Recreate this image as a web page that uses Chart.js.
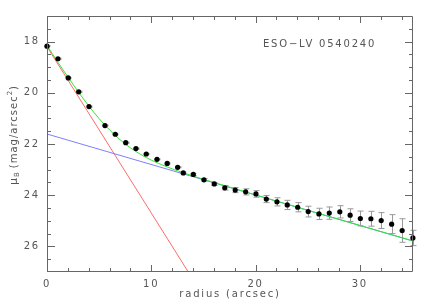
<!DOCTYPE html>
<html>
<head>
<meta charset="utf-8">
<script src="https://cdn.jsdelivr.net/npm/chart.js@4.4.1/dist/chart.umd.min.js"></script>
<style>
  body { margin: 0; background: #fff; }
</style>
</head>
<body>
<canvas id="profile" width="436" height="305"></canvas>
<script>
// measured surface brightness profile
const radius = [0, 1.05, 2.04, 3.04, 4.03, 5.56, 6.55, 7.55, 8.53, 9.52, 10.55, 11.53, 12.53,
    13.07, 14.03, 15.05, 16.04, 17.05, 18.05, 19.05, 20.04, 21.03, 22.05, 23.04, 24.04,
    25.05, 26.08, 27.07, 28.08, 29.07, 30.05, 31.06, 32.05, 33.05, 34.06, 35.09];
const muB = [18.18, 18.67, 19.42, 19.96, 20.54, 21.28, 21.62, 21.95, 22.18, 22.39, 22.60, 22.76, 22.91,
    23.13, 23.19, 23.40, 23.56, 23.71, 23.80, 23.87, 23.95, 24.15, 24.26, 24.38, 24.47,
    24.64, 24.73, 24.70, 24.65, 24.78, 24.91, 24.92, 24.99, 25.13, 25.38, 25.67];
const muErr = [0.02, 0.02, 0.02, 0.02, 0.02, 0.02, 0.02, 0.02, 0.02, 0.02, 0.02, 0.02, 0.02,
    0.03, 0.04, 0.05, 0.06, 0.09, 0.10, 0.12, 0.13, 0.14, 0.16, 0.18, 0.18,
    0.21, 0.22, 0.24, 0.24, 0.25, 0.29, 0.29, 0.31, 0.37, 0.46, 0.30];

// fitted components
const bulgeR = [0, 13.55];
const bulgeMu = [18.2, 27.0];
const diskR = [0, 35.1];
const diskMu = [21.61, 25.79];
const fitR = [0, 1, 2, 3, 4, 5, 6, 7, 8, 9, 10, 12, 14, 16, 20, 25, 30, 35.1];
const fitMu = [18.15, 18.78, 19.38, 19.96, 20.51, 21.01, 21.45, 21.83, 22.15, 22.41, 22.63,
    22.97, 23.25, 23.50, 23.99, 24.59, 25.18, 25.79];

const xTicks = [0, 10, 20, 30];
const yTicks = [18, 20, 22, 24, 26];
const galaxyName = 'ESO\u2212LV 0540240';

const axisColor = '#666';
const textColor = '#555';
const fontFamily = "'DejaVu Sans', sans-serif";
const spacing = '1.8px';

const toXY = (xs, ys) => xs.map((x, i) => ({ x: x, y: ys[i] }));

// wide, spaced-out lettering like the original plot
const letterSpacing = {
    id: 'letterSpacing',
    beforeUpdate(chart) { chart.ctx.letterSpacing = spacing; },
    beforeDraw(chart) { chart.ctx.letterSpacing = spacing; }
};

const errorBars = {
    id: 'errorBars',
    beforeDatasetsDraw(chart) {
        const { ctx, scales: { x, y } } = chart;
        ctx.save();
        ctx.strokeStyle = '#999';
        ctx.lineWidth = 1;
        ctx.beginPath();
        radius.forEach((r, i) => {
            const px = Math.round(x.getPixelForValue(r)) + 0.5;
            const top = y.getPixelForValue(muB[i] - muErr[i]);
            const bot = y.getPixelForValue(muB[i] + muErr[i]);
            ctx.moveTo(px, top); ctx.lineTo(px, bot);
            ctx.moveTo(px - 3, top); ctx.lineTo(px + 3, top);
            ctx.moveTo(px - 3, bot); ctx.lineTo(px + 3, bot);
        });
        ctx.stroke();
        ctx.restore();
    }
};

// box with inward ticks on all four sides, plus the extra labels
const frame = {
    id: 'frame',
    afterDraw(chart) {
        const { ctx, chartArea: a, scales: { x, y } } = chart;
        ctx.save();
        ctx.strokeStyle = axisColor;
        ctx.lineWidth = 1;
        ctx.beginPath();
        ctx.rect(a.left + 0.5, a.top + 0.5, a.right - a.left - 1, a.bottom - a.top - 1);
        for (let v = 0; v <= 35; v += 2) {
            const len = xTicks.includes(v) ? 7 : 4;
            const px = Math.round(x.getPixelForValue(v)) + 0.5;
            ctx.moveTo(px, a.bottom); ctx.lineTo(px, a.bottom - len);
            ctx.moveTo(px, a.top); ctx.lineTo(px, a.top + len);
        }
        for (let v = 17.5; v < 27; v += 0.5) {
            const len = yTicks.includes(v) ? 8 : 4;
            const py = Math.round(y.getPixelForValue(v)) + 0.5;
            ctx.moveTo(a.left, py); ctx.lineTo(a.left + len, py);
            ctx.moveTo(a.right, py); ctx.lineTo(a.right - len, py);
        }
        ctx.stroke();

        ctx.fillStyle = textColor;
        ctx.letterSpacing = spacing;
        ctx.font = '10px ' + fontFamily;
        ctx.textBaseline = 'middle';
        ctx.textAlign = 'left';
        ctx.fillText(galaxyName, 263, 44);

        // y axis title: mu_B (mag/arcsec^2)
        ctx.letterSpacing = '1px';
        ctx.translate(14, 185);
        ctx.rotate(-Math.PI / 2);
        ctx.font = '11px ' + fontFamily;
        let cx = 0;
        ctx.fillText('\u03bc', cx, 0);
        cx += ctx.measureText('\u03bc').width;
        ctx.font = '7px ' + fontFamily;
        ctx.fillText('B', cx, 3);
        cx += ctx.measureText('B').width + 3;
        ctx.font = '10px ' + fontFamily;
        ctx.fillText('(mag/arcsec', cx, 0);
        cx += ctx.measureText('(mag/arcsec').width;
        ctx.font = '7px ' + fontFamily;
        ctx.fillText('2', cx, -4);
        cx += ctx.measureText('2').width;
        ctx.font = '10px ' + fontFamily;
        ctx.fillText(')', cx, 0);
        ctx.restore();
    }
};

new Chart(document.getElementById('profile'), {
    type: 'scatter',
    data: {
        // first dataset is drawn on top
        datasets: [
            {
                label: 'profile',
                data: toXY(radius, muB),
                pointRadius: 2.6,
                pointBackgroundColor: '#000',
                pointBorderWidth: 0,
                clip: false
            },
            {
                label: 'total',
                data: toXY(fitR, fitMu),
                showLine: true,
                cubicInterpolationMode: 'monotone',
                borderColor: '#2ee62e',
                borderWidth: 1,
                pointRadius: 0
            },
            {
                label: 'disk',
                data: toXY(diskR, diskMu),
                showLine: true,
                borderColor: '#7f7fff',
                borderWidth: 1,
                pointRadius: 0
            },
            {
                label: 'bulge',
                data: toXY(bulgeR, bulgeMu),
                showLine: true,
                borderColor: '#ff6b6b',
                borderWidth: 1,
                pointRadius: 0
            }
        ]
    },
    options: {
        responsive: false,
        animation: false,
        layout: { padding: { top: 16, right: 23, left: 0, bottom: 0 } },
        plugins: {
            legend: { display: false },
            tooltip: { enabled: false }
        },
        scales: {
            x: {
                type: 'linear',
                min: 0,
                max: 35.1,
                afterFit(scale) { scale.height = 33; },
                afterBuildTicks(scale) { scale.ticks = xTicks.map(v => ({ value: v })); },
                grid: { display: false, drawTicks: false },
                border: { display: false },
                ticks: { padding: 6, color: textColor, font: { family: fontFamily, size: 10 } },
                title: {
                    display: true,
                    text: 'radius (arcsec)',
                    color: textColor,
                    font: { family: fontFamily, size: 10 },
                    padding: { top: 0, bottom: 5 }
                }
            },
            y: {
                type: 'linear',
                reverse: true,
                min: 17,
                max: 27,
                afterFit(scale) { scale.width = 47; },
                afterBuildTicks(scale) { scale.ticks = yTicks.map(v => ({ value: v })); },
                grid: { display: false, drawTicks: false },
                border: { display: false },
                ticks: { padding: 7, color: textColor, font: { family: fontFamily, size: 10 } }
            }
        }
    },
    plugins: [letterSpacing, errorBars, frame]
});
</script>
</body>
</html>
